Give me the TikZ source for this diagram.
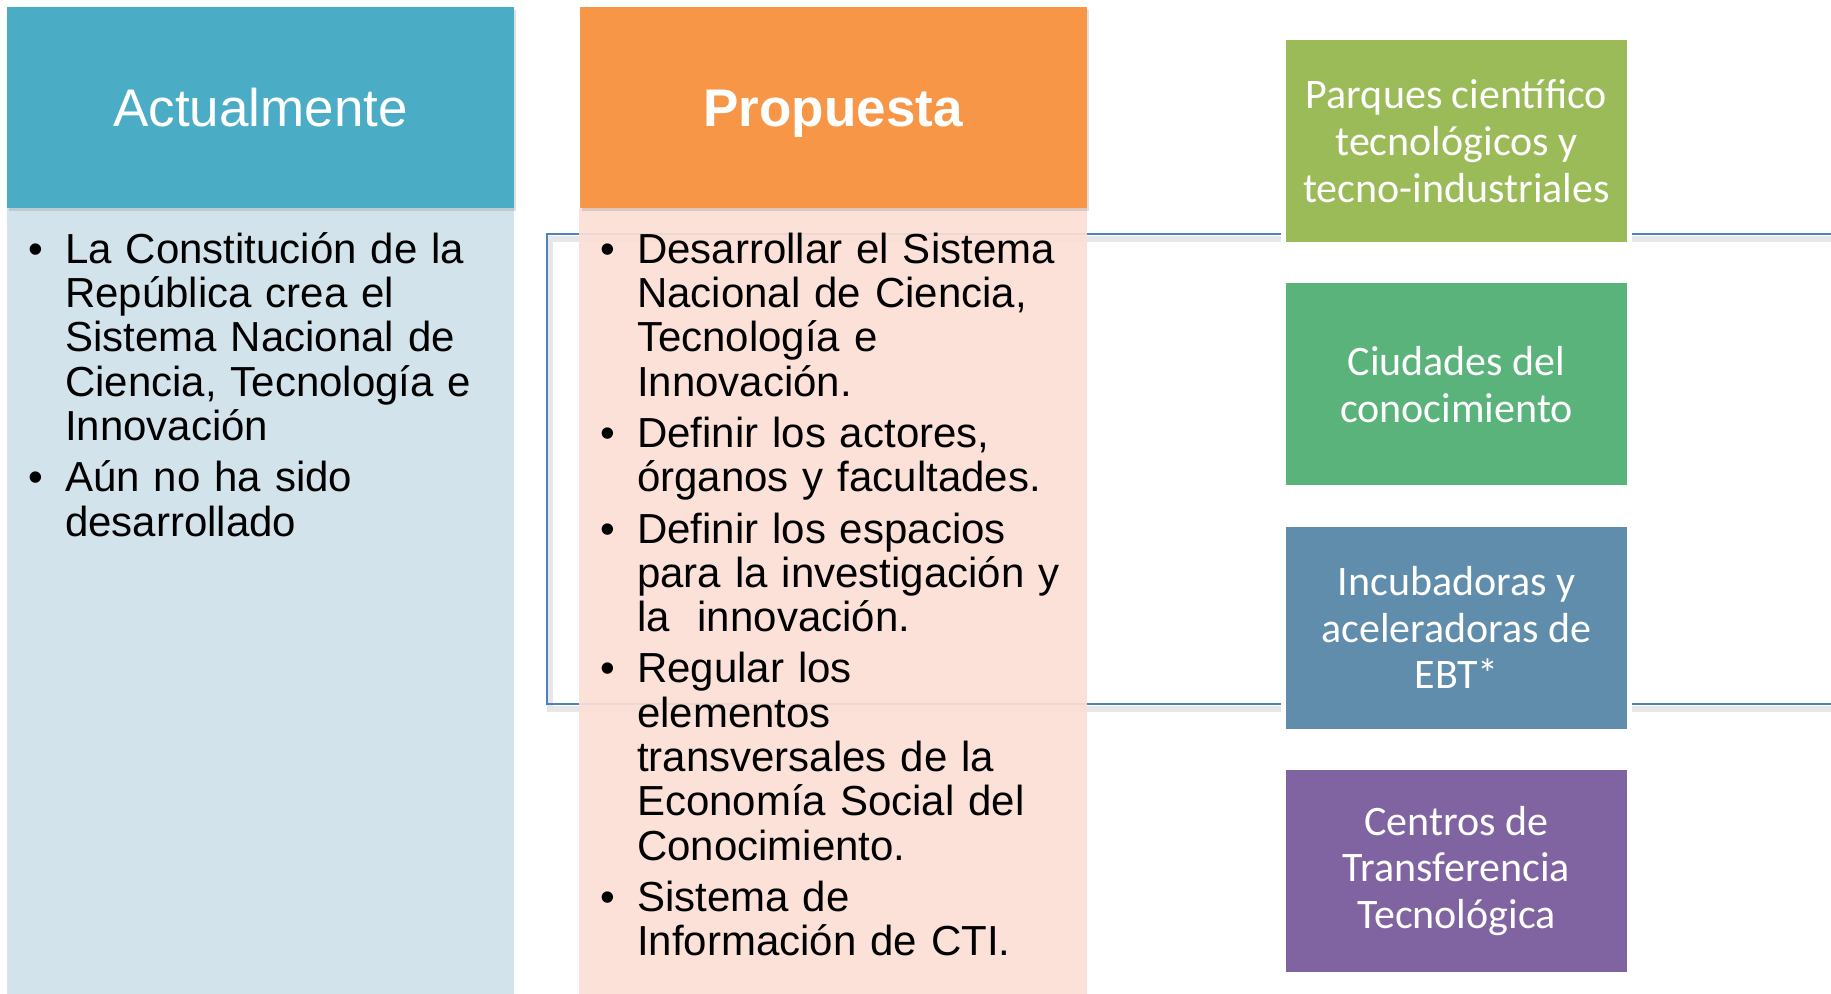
\documentclass[tikz,border=0pt]{standalone}
\usepackage{fontspec}
\setmainfont{Liberation Sans}
\newfontfamily\calibri{Carlito}
\usepackage{enumitem}
\usetikzlibrary{shadows}

\definecolor{azulcab}{RGB}{75,172,198}
\definecolor{azulcuerpo}{RGB}{210,227,235}
\definecolor{naranjacab}{RGB}{247,150,70}
\definecolor{rosacuerpo}{RGB}{251,223,213}
\definecolor{marco}{RGB}{79,129,189}
\definecolor{verdeuno}{RGB}{155,187,89}
\definecolor{verdedos}{RGB}{91,179,124}
\definecolor{azulcaja}{RGB}{96,141,172}
\definecolor{morado}{RGB}{128,100,162}

\newlist{puntos}{itemize}{1}
\setlist[puntos]{label=\textbullet, leftmargin=18.5pt, labelwidth=18.5pt, labelsep=0pt, align=left, itemsep=3.5pt, parsep=0pt, topsep=0pt, partopsep=0pt}

\tikzset{
  cabecera/.style={minimum width=253.5pt, minimum height=100.5pt, inner sep=0pt, text=white,
    text height=19.3pt, text depth=0pt,
    font=\fontsize{26.5pt}{30pt}\selectfont,
    drop shadow={shadow xshift=1pt, shadow yshift=-1.5pt, opacity=0.25}},
  lista/.style={anchor=base west, inner sep=0pt, text width=240pt,
    font=\fontsize{21pt}{22.15pt}\selectfont},
  caja/.style={minimum width=170.5pt, minimum height=101pt, inner sep=0pt, text=white, align=center,
    font=\calibri\fontsize{21pt}{23.35pt}\selectfont,
    preaction={draw=white, line width=5pt}},
}

\begin{document}
\begin{tikzpicture}[x=0.5pt,y=-0.5pt]
%\draw [help lines,black!20!white] (0,0) grid[step=100] (1831,994);
\clip (0,0) rectangle (1831,994);
\fill[white] (0,0) rectangle (1831,994);

% marco azul
\draw[gray!60, line width=3pt, opacity=0.3] (550,239) rectangle (1850,709);
\draw[marco, line width=1pt] (547,234) rectangle (1850,704);

% columnas
\fill[azulcuerpo] (7,208) rectangle (514,1000);
\fill[rosacuerpo, fill opacity=0.92] (579,208) rectangle (1087,1000);

\node[cabecera, fill=azulcab] (actual) at (260.5,107.5) {Actualmente};
\node[cabecera, fill=naranjacab, font=\fontsize{26.5pt}{30pt}\selectfont\bfseries] (propuesta) at (833,107.5) {Propuesta};

\node[lista] (listaactual) at (27.6,219) {\begin{puntos}
  \item La Constitución de la\\ República crea el\\ Sistema Nacional de\\ Ciencia, Tecnología e\\ Innovación
  \item Aún no ha sido\\ desarrollado
\end{puntos}};

\node[lista] (listapropuesta) at (599.6,219) {\begin{puntos}
  \item Desarrollar el Sistema\\ Nacional de Ciencia,\\ Tecnología e\\ Innovación.
  \item Definir los actores,\\ órganos y facultades.
  \item Definir los espacios\\ para la investigación y\\ la~ innovación.
  \item Regular los\\ elementos\\ transversales de la\\ Economía Social del\\ Conocimiento.
  \item Sistema de\\ Información de CTI.
\end{puntos}};

% cajas de la derecha
\foreach \i/\tono/\texto in {0/verdeuno/{Parques científico\\tecnológicos y\\tecno-industriales},
    1/verdedos/{Ciudades del\\conocimiento},
    2/azulcaja/{Incubadoras y\\aceleradoras de\\EBT*},
    3/morado/{Centros de\\Transferencia\\Tecnológica}}{
  \node[caja, fill=\tono] (caja\i) at (1456.5,{141+243.3*\i}) {\texto};}

\end{tikzpicture}
\end{document}
